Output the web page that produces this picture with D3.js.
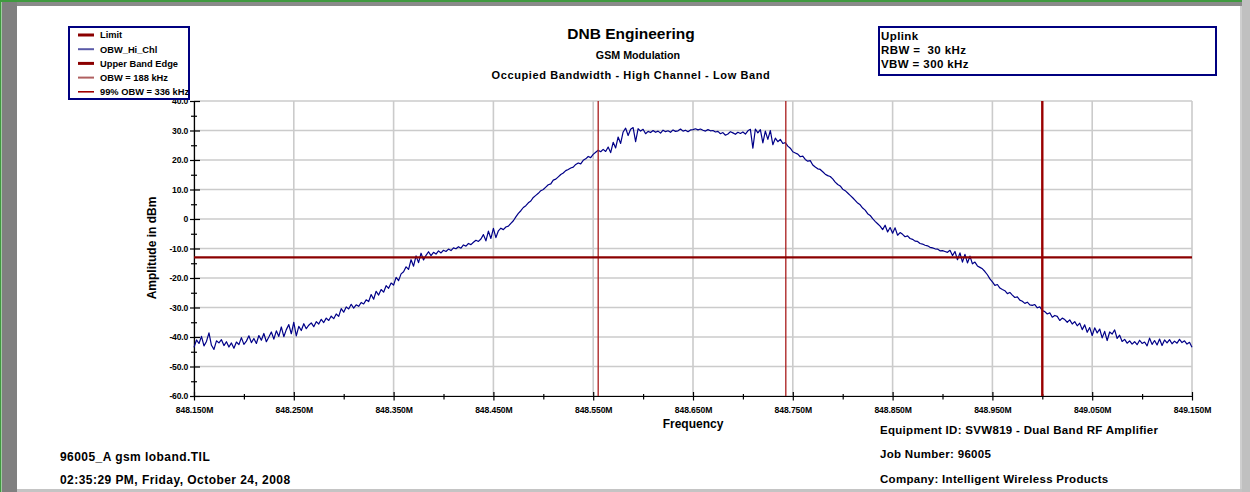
<!DOCTYPE html>
<html><head><meta charset="utf-8">
<script src="https://cdn.jsdelivr.net/npm/d3@7"></script>
<style>
html,body{margin:0;padding:0;background:#fff;}
svg{display:block;font-family:"Liberation Sans",Arial,sans-serif;font-weight:bold;}
</style></head>
<body>
<svg id="chart" width="1250" height="492"></svg>
<script>
// ---------- data ----------
const titleLines = ["DNB Engineering", "GSM Modulation", "Occupied Bandwidth - High Channel - Low Band"];
const infoLines = ["Uplink", "RBW =  30 kHz", "VBW = 300 kHz"];
const footerLeft = ["96005_A gsm loband.TIL", "02:35:29 PM, Friday, October 24, 2008"];
const footerRight = ["Equipment ID: SVW819 - Dual Band RF Amplifier", "Job Number: 96005", "Company: Intelligent Wireless Products"];
const legendNames = ["Limit", "OBW_Hi_Chl", "Upper Band Edge", "OBW = 188 kHz", "99% OBW = 336 kHz"];
const xTickValues = [848.15, 848.25, 848.35, 848.45, 848.55, 848.65, 848.75, 848.85, 848.95, 849.05, 849.15];
const xMinorTicks = [848.20, 848.30, 848.40, 848.50, 848.60, 848.70, 848.80, 848.90, 849.00, 849.10];
const yTickValues = [-60, -50, -40, -30, -20, -10, 0, 10, 20, 30, 40];
const yMinorTicks = [-55, -45, -35, -25, -15, -5, 5, 15, 25, 35];
const limitDbm = -13;
const upperBandEdgeMHz = 849.000;
const obwLinesMHz = [848.555, 848.743];
const sweepStartMHz = 848.150;
const sweepStepMHz = 0.0025;
// trace amplitude (dBm), one value per 2.5 kHz from 848.150 MHz (401 points)
const traceDbm = [
 -43.5,-41.0,-42.2,-39.8,-43.0,-41.5,-38.6,-42.8,-44.2,-41.3,-42.0,-40.9,-42.9,-41.6,-43.4,-42.0,-43.8,-41.7,-42.6,-40.2,
 -42.5,-41.4,-39.6,-41.9,-40.5,-42.2,-39.5,-41.1,-38.8,-41.6,-40.0,-38.3,-40.7,-37.9,-39.8,-36.6,-39.9,-37.5,-35.8,-38.9,
 -35.0,-39.6,-36.4,-37.8,-35.5,-37.2,-36.0,-35.2,-36.5,-34.8,-35.6,-34.0,-35.1,-33.6,-34.4,-32.9,-33.8,-32.2,-33.0,-30.4,
 -31.6,-29.8,-30.5,-28.9,-30.2,-29.1,-29.6,-28.3,-28.8,-27.4,-28.0,-25.6,-27.2,-24.5,-25.8,-23.9,-24.8,-22.6,-23.5,-21.7,
 -22.4,-19.8,-20.9,-18.6,-17.9,-16.2,-17.1,-13.8,-16.0,-12.5,-14.8,-11.6,-13.9,-12.3,-11.1,-12.4,-11.3,-11.9,-10.8,-11.5,
 -10.6,-11.0,-10.2,-10.7,-9.8,-10.1,-9.4,-9.9,-8.8,-9.2,-8.3,-8.7,-7.9,-7.2,-7.6,-6.8,-5.3,-7.4,-4.1,-6.6,
 -3.2,-6.3,-4.0,-3.1,-3.6,-2.7,-2.4,-1.5,-0.6,0.7,1.9,2.8,3.9,4.5,5.5,6.1,7.3,8.0,8.7,9.6,
 10.0,10.8,11.6,11.9,13.2,13.5,14.3,15.1,15.6,16.4,16.8,17.3,17.6,18.5,19.0,18.7,19.9,20.4,21.2,20.8,
 21.9,22.6,23.3,22.8,23.6,22.9,24.4,22.5,26.0,24.1,27.8,25.6,29.5,30.8,28.3,30.4,31.0,26.2,30.6,29.8,
 30.4,28.9,29.7,29.3,30.0,29.4,29.8,29.1,30.1,29.6,29.9,29.4,30.2,29.7,29.9,30.5,29.8,30.1,29.6,30.2,
 30.3,30.6,30.2,30.5,30.1,29.8,30.3,29.9,30.0,29.5,29.7,28.9,29.3,28.4,28.8,29.6,29.2,28.7,29.4,29.0,
 29.5,28.8,29.9,30.4,24.0,30.5,29.2,30.3,25.8,29.8,27.0,30.0,25.2,27.4,26.2,27.0,25.6,25.9,24.7,24.0,
 22.8,22.4,22.0,21.1,21.3,20.2,19.6,19.8,18.3,17.6,17.0,16.8,16.0,15.2,14.7,14.4,13.6,12.5,11.7,11.2,
 10.1,9.6,8.8,8.0,7.2,6.3,5.4,4.8,3.7,3.0,1.8,1.2,0.1,-0.8,-1.6,-2.4,-3.6,-2.1,-4.4,-2.9,
 -4.8,-3.0,-5.5,-4.6,-5.2,-6.0,-5.7,-6.6,-6.9,-7.5,-7.6,-8.3,-8.5,-8.9,-9.1,-9.6,-9.8,-10.1,-10.2,-10.8,
 -10.7,-11.0,-11.3,-10.6,-12.4,-11.0,-13.8,-11.5,-14.6,-12.0,-14.9,-12.6,-15.2,-14.6,-15.9,-16.4,-16.9,-17.8,-18.9,-20.3,
 -21.3,-22.5,-22.2,-23.4,-23.9,-24.3,-25.3,-24.9,-25.8,-26.6,-26.4,-27.5,-27.9,-28.6,-28.2,-29.1,-29.3,-29.0,-30.1,-29.8,
 -31.0,-31.4,-32.2,-31.8,-33.3,-32.7,-33.0,-34.4,-33.6,-34.1,-35.0,-34.2,-35.6,-34.8,-36.2,-35.3,-37.5,-35.9,-38.4,-36.8,
 -39.5,-36.9,-38.6,-37.3,-40.3,-38.1,-41.2,-38.3,-39.0,-37.6,-40.5,-39.4,-41.5,-40.8,-42.1,-41.3,-42.4,-41.6,-42.6,-41.1,
 -42.2,-41.7,-43.0,-40.4,-42.5,-41.2,-42.7,-40.7,-42.9,-41.0,-42.0,-40.9,-42.3,-41.4,-42.1,-40.8,-41.9,-41.3,-42.4,-41.8,
 -43.5
];

// ---------- drawing ----------
const svg = d3.select("#chart");
const W = 1250, H = 492;
const plot = {left: 194, right: 1192, top: 101, bottom: 396};
const x = d3.scaleLinear().domain([848.15, 849.15]).range([plot.left, plot.right]);
const y = d3.scaleLinear().domain([-60, 40]).range([plot.bottom, plot.top]);

// frame
svg.append("rect").attr("x",0).attr("y",0).attr("width",W).attr("height",H).attr("fill","#fff");
svg.append("rect").attr("x",0).attr("y",0).attr("width",1243).attr("height",2).attr("fill","#3f9a3f");
svg.append("rect").attr("x",0).attr("y",0).attr("width",1.5).attr("height",H).attr("fill","#3f9a3f");
svg.append("rect").attr("x",2).attr("y",2).attr("width",1241).attr("height",4).attr("fill","#8a8a8a");
svg.append("rect").attr("x",2).attr("y",2).attr("width",15).attr("height",H).attr("fill","#808080");
svg.append("rect").attr("x",1242).attr("y",0).attr("width",8).attr("height",H).attr("fill","#c0c0c0");
svg.append("rect").attr("x",1240.5).attr("y",6).attr("width",1).attr("height",H).attr("fill","#a0a0a0");
svg.append("rect").attr("x",17).attr("y",489).attr("width",1225).attr("height",3).attr("fill","#c4c4c4");

// grid
const grid = svg.append("g").attr("stroke","#cbcbcb").attr("stroke-width",1.6);
grid.selectAll("line.v").data(xTickValues).join("line")
  .attr("x1",d=>x(d)).attr("x2",d=>x(d)).attr("y1",plot.top).attr("y2",plot.bottom);
grid.selectAll("line.h").data(yTickValues).join("line")
  .attr("x1",plot.left).attr("x2",plot.right).attr("y1",d=>y(d)).attr("y2",d=>y(d));

// axes
const fmtX = d => d.toFixed(3) + "M";
const fmtY = d => d === 0 ? "0" : d.toFixed(1);
const xAxis = svg.append("g").attr("transform",`translate(0,${plot.bottom})`)
  .call(d3.axisBottom(x).tickValues(xTickValues).tickFormat(fmtX).tickSize(4).tickSizeOuter(0));
xAxis.select(".domain").attr("stroke","#000").attr("stroke-width",1.2);
xAxis.selectAll(".tick line").attr("y1",-4).attr("y2",4.5).attr("stroke","#000").attr("stroke-width",1.2);
xAxis.selectAll(".tick text").attr("y",11).attr("dy","0.71em")
  .attr("font-size","8.6px").attr("font-weight","bold").attr("fill","#000")
  .attr("font-family","Liberation Sans, Arial, sans-serif").attr("letter-spacing","-0.1");
const xMinor = svg.append("g").attr("transform",`translate(0,${plot.bottom})`)
  .call(d3.axisBottom(x).tickValues(xMinorTicks).tickFormat("").tickSize(3).tickSizeOuter(0));
xMinor.select(".domain").remove();
xMinor.selectAll(".tick line").attr("y1",-2).attr("y2",3.5).attr("stroke","#000").attr("stroke-width",1.2);

const yAxis = svg.append("g").attr("transform",`translate(${plot.left},0)`)
  .call(d3.axisLeft(y).tickValues(yTickValues).tickFormat(fmtY).tickSize(4).tickSizeOuter(0));
yAxis.select(".domain").attr("stroke","#000").attr("stroke-width",1.2);
yAxis.selectAll(".tick line").attr("x1",-4).attr("x2",6).attr("stroke","#000").attr("stroke-width",1.2);
yAxis.selectAll(".tick text").attr("x",-6).attr("dy","0.32em")
  .attr("font-size","8.6px").attr("font-weight","bold").attr("fill","#000")
  .attr("font-family","Liberation Sans, Arial, sans-serif").attr("letter-spacing","-0.2");
const yMinor = svg.append("g").attr("transform",`translate(${plot.left},0)`)
  .call(d3.axisLeft(y).tickValues(yMinorTicks).tickFormat("").tickSize(3).tickSizeOuter(0));
yMinor.select(".domain").remove();
yMinor.selectAll(".tick line").attr("x1",-3).attr("x2",3).attr("stroke","#000").attr("stroke-width",1.2);

// trace
const traceData = traceDbm.map((v,i)=>({f: sweepStartMHz + i*sweepStepMHz, v}));
svg.append("path").datum(traceData)
  .attr("fill","none").attr("stroke","#000088").attr("stroke-width",1.2).attr("stroke-linejoin","round")
  .attr("d", d3.line().x(d=>x(d.f)).y(d=>y(d.v)));

// OBW lines
svg.selectAll("line.obw").data(obwLinesMHz).join("line")
  .attr("x1",d=>x(d)).attr("x2",d=>x(d)).attr("y1",plot.top).attr("y2",plot.bottom)
  .attr("stroke","#a81c1c").attr("stroke-width",1.3);
// limit
svg.append("line").attr("x1",plot.left).attr("x2",plot.right).attr("y1",y(limitDbm)).attr("y2",y(limitDbm))
  .attr("stroke","#8b0000").attr("stroke-width",2.4);
// upper band edge
svg.append("line").attr("x1",x(upperBandEdgeMHz)).attr("x2",x(upperBandEdgeMHz)).attr("y1",plot.top).attr("y2",plot.bottom)
  .attr("stroke","#990000").attr("stroke-width",2.4);

// axis titles
svg.append("text").attr("transform",`translate(156,248) rotate(-90)`).attr("text-anchor","middle")
  .attr("font-size","12px").text("Amplitude in dBm");
svg.append("text").attr("x",693).attr("y",428).attr("text-anchor","middle")
  .attr("font-size","12px").text("Frequency");

// titles
svg.append("text").attr("x",631).attr("y",39).attr("text-anchor","middle").attr("font-size","15.5px").text(titleLines[0]);
svg.append("text").attr("x",638).attr("y",59).attr("text-anchor","middle").attr("font-size","10.7px").text(titleLines[1]);
svg.append("text").attr("x",631).attr("y",79).attr("text-anchor","middle").attr("font-size","11px")
  .attr("letter-spacing","0.6").text(titleLines[2]);

// legend
svg.append("rect").attr("x",69).attr("y",27).attr("width",120).attr("height",72)
  .attr("fill","#fff").attr("stroke","#000080").attr("stroke-width",2);
const legendStyle = [
  {c:"#8b0000", w:3}, {c:"#5a5aa8", w:2}, {c:"#8b0000", w:3}, {c:"#b06060", w:2}, {c:"#a00000", w:1.6}
];
const lg = svg.append("g");
legendNames.forEach((name,i)=>{
  const yy = 35 + i*14.2;
  lg.append("line").attr("x1",78).attr("x2",94).attr("y1",yy).attr("y2",yy)
    .attr("stroke",legendStyle[i].c).attr("stroke-width",legendStyle[i].w);
  lg.append("text").attr("x",100).attr("y",yy+3.3).attr("font-size","9.3px").text(name);
});

// info box
svg.append("rect").attr("x",879).attr("y",27).attr("width",337).attr("height",48)
  .attr("fill","none").attr("stroke","#000080").attr("stroke-width",2);
infoLines.forEach((t,i)=>{
  svg.append("text").attr("x",881).attr("y",40+i*14).attr("font-size","11.5px").attr("letter-spacing","0.4")
    .attr("xml:space","preserve").style("white-space","pre").text(t);
});

// footers
footerLeft.forEach((t,i)=>{
  svg.append("text").attr("x",60).attr("y",461+i*23).attr("font-size","12px").attr("letter-spacing","0.45").text(t);
});
footerRight.forEach((t,i)=>{
  svg.append("text").attr("x",880).attr("y",434+i*24.3).attr("font-size","11.5px").attr("letter-spacing","0.3").text(t);
});
</script>
</body></html>
